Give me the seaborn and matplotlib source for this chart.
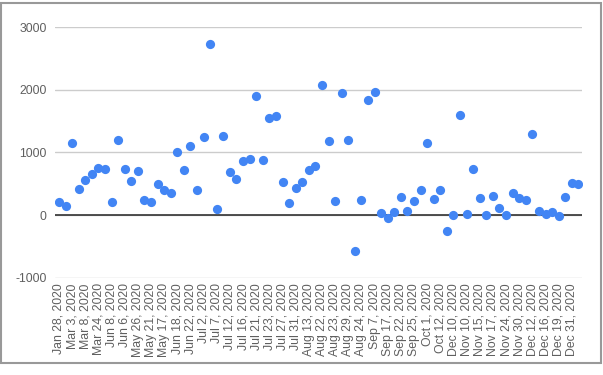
import numpy as np
import pandas as pd
import matplotlib
matplotlib.use("Agg")
import matplotlib.pyplot as plt
import seaborn as sns

# every other category carries a label on the axis
tick_labels = [
    "Jan 28, 2020", "Mar 3, 2020", "Mar 8, 2020", "Mar 24, 2020", "Jun 8, 2020",
    "Jun 6, 2020", "May 26, 2020", "May 21, 2020", "May 17, 2020", "Jun 18, 2020",
    "Jun 22, 2020", "Jul 2, 2020", "Jul 7, 2020", "Jul 12, 2020", "Jul 16, 2020",
    "Jul 21, 2020", "Jul 23, 2020", "Jul 27, 2020", "Jul 31, 2020", "Aug 13, 2020",
    "Aug 22, 2020", "Aug 23, 2020", "Aug 29, 2020", "Aug 24, 2020", "Sep 7, 2020",
    "Sep 17, 2020", "Sep 22, 2020", "Sep 25, 2020", "Oct 1, 2020", "Oct 12, 2020",
    "Dec 10, 2020", "Nov 10, 2020", "Nov 15, 2020", "Nov 17, 2020", "Nov 24, 2020",
    "Nov 30, 2020", "Dec 12, 2020", "Dec 16, 2020", "Dec 19, 2020", "Dec 31, 2020",
]

values = [
    208, 139, 1157, 416, 565, 656, 757, 730, 208, 1199,
    736, 544, 704, 245, 213, 501, 400, 352, 1007, 720,
    1103, 394, 1253, 2734, 101, 1258, 682, 570, 858, 895,
    1903, 879, 1546, 1588, 533, 187, 426, 522, 714, 778,
    2073, 1178, 218, 1945, 1205, -570, 245, 1834, 1967, 27,
    -53, 43, 293, 64, 229, 400, 1146, 250, 405, -250,
    0, 1599, 21, 736, 277, 0, 298, 107, 0, 346,
    267, 240, 1300, 64, 21, 53, -16, 288, 506, 496,
]

df = pd.DataFrame({"pos": np.arange(len(values)), "value": values})

sns.set_style("white")
plt.rcParams["font.family"] = ["Liberation Sans", "DejaVu Sans"]

fig = plt.figure(figsize=(6.03, 3.75), dpi=100)
ax = fig.add_axes([55 / 603, 97.4 / 375, 527 / 603, 250.3 / 375])

sns.scatterplot(data=df, x="pos", y="value", ax=ax, color="#4285F4",
                s=44, linewidth=0, zorder=3)

ax.set_ylim(-1000, 3000)
ax.set_xlim(-0.6, len(values) - 0.45)
ax.set_yticks([-1000, 0, 1000, 2000, 3000])
ax.set_yticklabels(["-1000", "0", "1000", "2000", "3000"])
ax.set_xticks(np.arange(0, len(values), 2))
ax.set_xticklabels(tick_labels, rotation=90)

ax.grid(axis="y", color="#cccccc", linewidth=1)
ax.axhline(0, color="#333333", linewidth=1.2, zorder=2)
for s in ax.spines.values():
    s.set_visible(False)
ax.tick_params(axis="both", length=0, labelsize=8.8, colors="#5f5f5f")
ax.tick_params(axis="y", pad=6)
ax.tick_params(axis="x", pad=4)
ax.set_xlabel("")
ax.set_ylabel("")

# screenshot frame
fig.add_artist(plt.Rectangle((0.5 / 603, 12 / 375), 600 / 603, 360.5 / 375,
                             transform=fig.transFigure, fill=False,
                             edgecolor="#999999", linewidth=1.5))

fig.savefig("out.png", dpi=100)
